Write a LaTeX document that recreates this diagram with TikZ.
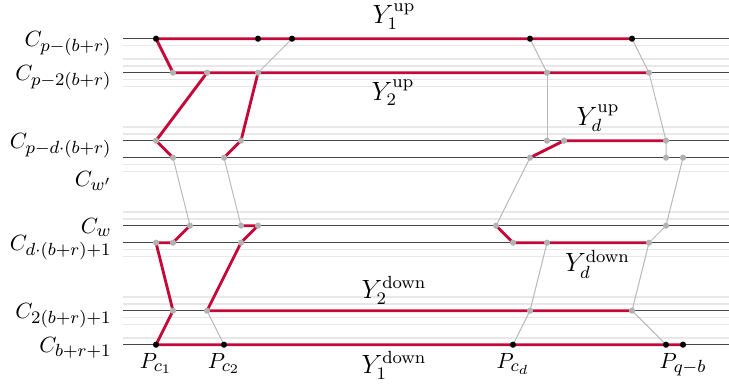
\documentclass[tikz,border=0pt]{standalone}
\DeclareMathSizes{10}{10}{8}{6}
\definecolor{myred}{RGB}{196,8,58}
\definecolor{darkln}{RGB}{70,70,70}
\definecolor{lightln}{RGB}{232,232,232}
\definecolor{edgegray}{RGB}{185,185,185}
\definecolor{dotgray}{RGB}{178,178,178}
\begin{document}
\begin{tikzpicture}[x=0.4545pt,y=-0.4545pt,
  darkline/.style={draw=darkln,line width=0.55pt},
  lightline/.style={draw=lightln,line width=0.55pt},
  redpath/.style={draw=myred,line width=1.3pt,line join=round,line cap=round},
  grayedge/.style={draw=edgegray,line width=0.45pt},
  bdot/.style={circle,fill=black,inner sep=0pt,minimum size=2.8pt},
  gdot/.style={circle,fill=dotgray,inner sep=0pt,minimum size=2.8pt},
  clabel/.style={anchor=base east,inner sep=0pt,font=\fontsize{10}{12}\selectfont},
  plabel/.style={anchor=base,inner sep=0pt,font=\fontsize{10}{12}\selectfont},
  ylabel/.style={anchor=base,inner sep=0pt,font=\fontsize{12}{14}\selectfont}]
\useasboundingbox (0,0) rectangle (729,386);

% light horizontal lines
\foreach \u [count=\i] in {44,42,41,39,38,32,31,26.5,25.5,19.5,18.5,14,13,7,6,4,3,1}{
  \coordinate (ls\i) at (123,{344.7-6.8*\u});
  \coordinate (le\i) at (729,{344.7-6.8*\u});
  \draw[lightline] (ls\i) -- (le\i);
}
% dark horizontal lines
\foreach \u [count=\i] in {45,40,30,27.5,17.5,15,5,0}{
  \coordinate (Ls\i) at (123,{344.7-6.8*\u});
  \coordinate (Le\i) at (729,{344.7-6.8*\u});
  \draw[darkline] (Ls\i) -- (Le\i);
}

% points
\foreach \c in {0,6,8,22,28}   \coordinate (p1c\c) at ({156+17*\c},38.7);
\foreach \c in {1,3,6,23,29}   \coordinate (p2c\c) at ({156+17*\c},72.7);
\foreach \c in {0,5,23,24,30}  \coordinate (p3c\c) at ({156+17*\c},140.7);
\foreach \c in {1,4,22,30,31}  \coordinate (p4c\c) at ({156+17*\c},157.7);
\foreach \c in {2,5,6,20,30}   \coordinate (p5c\c) at ({156+17*\c},225.7);
\foreach \c in {0,1,5,21,23,29} \coordinate (p6c\c) at ({156+17*\c},242.7);
\foreach \c in {1,3,22,28}     \coordinate (p7c\c) at ({156+17*\c},310.7);
\foreach \c in {0,4,21,30,31}  \coordinate (p8c\c) at ({156+17*\c},344.7);

% thin gray connectors
\draw[grayedge] (p1c8) -- (p2c6);
\draw[grayedge] (p1c22) -- (p2c23);
\draw[grayedge] (p1c28) -- (p2c29);
\draw[grayedge] (p2c23) -- (p3c23);
\draw[grayedge] (p2c29) -- (p3c30) -- (p4c30);
\draw[grayedge] (p4c1) -- (p5c2);
\draw[grayedge] (p4c4) -- (p5c5);
\draw[grayedge] (p4c22) -- (p5c20);
\draw[grayedge] (p4c31) -- (p5c30) -- (p6c29);
\draw[grayedge] (p6c23) -- (p7c22) -- (p8c21);
\draw[grayedge] (p6c29) -- (p7c28) -- (p8c30);
\draw[grayedge] (p7c3) -- (p8c4);

% red paths
\draw[redpath] (p2c29) -- (p2c1) -- (p1c0) -- (p1c28);
\draw[redpath] (p2c3) -- (p3c0) -- (p4c1);
\draw[redpath] (p2c6) -- (p3c5) -- (p4c4);
\draw[redpath] (p4c22) -- (p3c24) -- (p3c30);
\draw[redpath] (p5c2) -- (p6c1) -- (p6c0) -- (p7c1) -- (p8c0) -- (p8c31);
\draw[redpath] (p5c5) -- (p5c6) -- (p6c5) -- (p7c3) -- (p7c28);
\draw[redpath] (p5c20) -- (p6c21) -- (p6c29);

% dots
\foreach \c in {0,6,8,22,28}    \node[bdot] (d1c\c) at (p1c\c) {};
\foreach \c in {1,3,6,23,29}    \node[gdot] (d2c\c) at (p2c\c) {};
\foreach \c in {0,5,23,24,30}   \node[gdot] (d3c\c) at (p3c\c) {};
\foreach \c in {1,4,22,30,31}   \node[gdot] (d4c\c) at (p4c\c) {};
\foreach \c in {2,5,6,20,30}    \node[gdot] (d5c\c) at (p5c\c) {};
\foreach \c in {0,1,5,21,23,29} \node[gdot] (d6c\c) at (p6c\c) {};
\foreach \c in {1,3,22,28}      \node[gdot] (d7c\c) at (p7c\c) {};
\foreach \c in {0,4,21,30,31}   \node[bdot] (d8c\c) at (p8c\c) {};

% row labels
\node[clabel] (r1) at (112,46.2)  {$C_{p-(b+r)}$};
\node[clabel] (r2) at (112,80.2)  {$C_{p-2(b+r)}$};
\node[clabel] (r3) at (112,148.2) {$C_{p-d\cdot(b+r)}$};
\node[clabel] (r4) at (112,186)   {$C_{w'}$};
\node[clabel] (r5) at (112,233.2) {$C_{w}$};
\node[clabel] (r6) at (112,250.2) {$C_{d\cdot(b+r)+1}$};
\node[clabel] (r7) at (112,318.2) {$C_{2(b+r)+1}$};
\node[clabel] (r8) at (112,352.2) {$C_{b+r+1}$};

% P labels
\node[plabel] (q1) at (156,368) {$P_{c_1}$};
\node[plabel] (q2) at (224,368) {$P_{c_2}$};
\node[plabel] (q3) at (513,368) {$P_{c_d}$};
\node[plabel] (q4) at (683,368) {$P_{q-b}$};

% Y labels
\node[ylabel] (y1u) at (394,24)    {$Y_1^{\mathrm{up}}$};
\node[ylabel] (y2u) at (393,100)   {$Y_2^{\mathrm{up}}$};
\node[ylabel] (ydu) at (598,125)   {$Y_d^{\mathrm{up}}$};
\node[ylabel] (ydd) at (597.5,271.7) {$Y_d^{\mathrm{down}}$};
\node[ylabel] (y2d) at (394,298.3) {$Y_2^{\mathrm{down}}$};
\node[ylabel] (y1d) at (394,373.3) {$Y_1^{\mathrm{down}}$};
\end{tikzpicture}
\end{document}
